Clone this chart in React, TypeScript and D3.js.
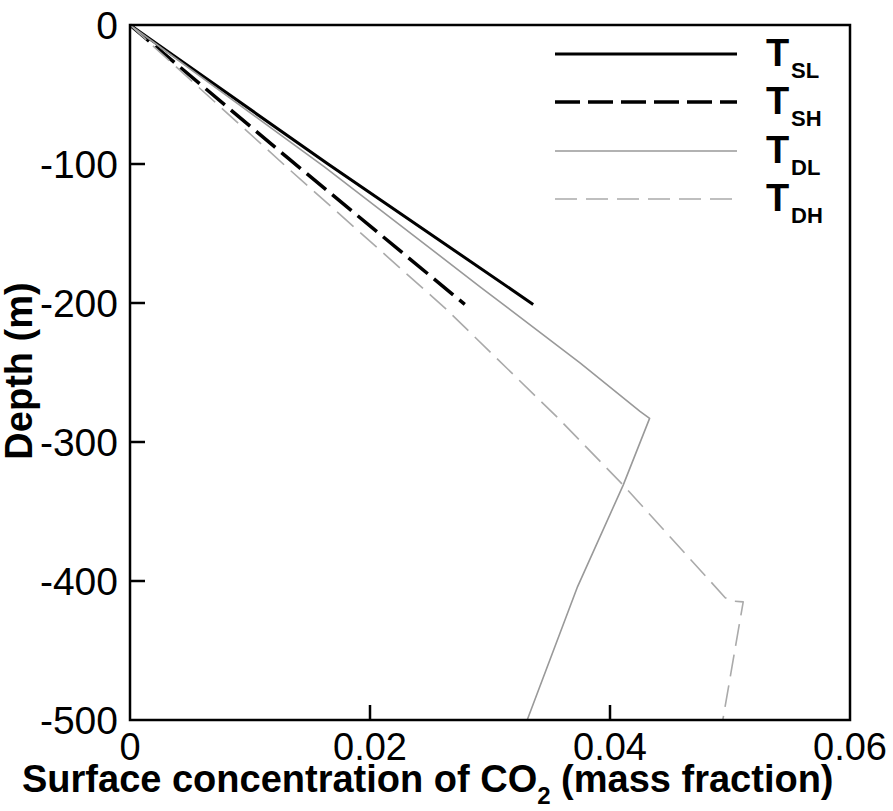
import React from "react";
import * as d3 from "d3";

// Depth profiles of surface CO2 concentration for four cases
const slConc = [0, 0.0165, 0.0336];
const slDepth = [0, -100, -201];

const shConc = [0, 0.0132, 0.0279];
const shDepth = [0, -96, -201];

const dlConc = [0, 0.0162, 0.0292, 0.0375, 0.0425, 0.0433, 0.0411, 0.0373, 0.0331];
const dlDepth = [0, -102, -188.5, -243, -278, -283, -331, -404, -500];

const dhConc = [0, 0.0129, 0.0263, 0.0357, 0.0411, 0.0496, 0.0503, 0.0511, 0.0494];
const dhDepth = [0, -101, -204, -283, -331, -412, -414.5, -415, -500];

const xTicks = [0, 0.02, 0.04, 0.06];
const xTickLabels = ["0", "0.02", "0.04", "0.06"];
const yTicks = [0, -100, -200, -300, -400, -500];

const seriesNames = ["SL", "SH", "DL", "DH"];

const W = 893;
const H = 811;
const FONT = "'Liberation Sans', Arial, sans-serif";

export default function App() {
  const x = d3.scaleLinear().domain([0, 0.06]).range([130, 850]);
  const y = d3.scaleLinear().domain([0, -500]).range([25, 720]);

  const line = d3
    .line<[number, number]>()
    .x((d) => x(d[0]))
    .y((d) => y(d[1]));

  const zip = (c: number[], dep: number[]) =>
    c.map((v, i) => [v, dep[i]] as [number, number]);

  const styles = [
    { stroke: "#000", width: 3, dash: "none" },
    { stroke: "#000", width: 3.5, dash: "25,8" },
    { stroke: "#999", width: 1.6, dash: "none" },
    { stroke: "#aaa", width: 1.6, dash: "22,9" },
  ];

  const series = [
    zip(slConc, slDepth),
    zip(shConc, shDepth),
    zip(dlConc, dlDepth),
    zip(dhConc, dhDepth),
  ];

  const legendY = [54, 102, 151, 199];

  return (
    <svg
      width={W}
      height={H}
      style={{ position: "absolute", left: 0, top: 0, background: "#fff" }}
      fontFamily={FONT}
    >
      <rect x={0} y={0} width={W} height={H} fill="#fff" />

      {/* data curves */}
      {series.map((pts, i) => (
        <path
          key={i}
          d={line(pts) || ""}
          fill="none"
          stroke={styles[i].stroke}
          strokeWidth={styles[i].width}
          strokeDasharray={styles[i].dash}
          strokeLinejoin="round"
        />
      ))}

      {/* ticks pointing inward */}
      {xTicks.slice(1, -1).map((t) => (
        <line
          key={"xt" + t}
          x1={x(t)}
          x2={x(t)}
          y1={y(-500)}
          y2={y(-500) - 15}
          stroke="#000"
          strokeWidth={2.5}
        />
      ))}
      {yTicks.slice(1, -1).map((t) => (
        <line
          key={"yt" + t}
          x1={x(0)}
          x2={x(0) + 15}
          y1={y(t)}
          y2={y(t)}
          stroke="#000"
          strokeWidth={2.5}
        />
      ))}

      {/* frame */}
      <rect
        x={x(0)}
        y={y(0)}
        width={x(0.06) - x(0)}
        height={y(-500) - y(0)}
        fill="none"
        stroke="#000"
        strokeWidth={2.5}
      />

      {/* tick labels */}
      {yTicks.map((t) => (
        <text
          key={"yl" + t}
          x={x(0) - 12}
          y={y(t) + 14}
          textAnchor="end"
          fontSize={39}
          fill="#000"
        >
          {t}
        </text>
      ))}
      {xTicks.map((t, i) => (
        <text
          key={"xl" + t}
          x={x(t)}
          y={760}
          textAnchor="middle"
          fontSize={38}
          fill="#000"
        >
          {xTickLabels[i]}
        </text>
      ))}

      {/* axis titles */}
      <text x={22} y={792} fontSize={38} fontWeight="bold" fill="#000">
        Surface concentration of CO
        <tspan fontSize={24} dy={12}>
          2
        </tspan>
        <tspan dy={-12}> (mass fraction)</tspan>
      </text>
      <text
        transform="translate(32,371) rotate(-90)"
        textAnchor="middle"
        fontSize={38}
        fontWeight="bold"
        fill="#000"
      >
        Depth (m)
      </text>

      {/* legend */}
      {seriesNames.map((name, i) => (
        <g key={"lg" + name}>
          <line
            x1={555}
            x2={737}
            y1={legendY[i]}
            y2={legendY[i]}
            stroke={styles[i].stroke}
            strokeWidth={styles[i].width}
            strokeDasharray={styles[i].dash}
          />
          <text x={766} y={legendY[i] + 12} fontSize={38} fontWeight="bold" fill="#000">
            T
          </text>
          <text x={791} y={legendY[i] + 24} fontSize={22} fontWeight="bold" fill="#000">
            {name}
          </text>
        </g>
      ))}
    </svg>
  );
}
